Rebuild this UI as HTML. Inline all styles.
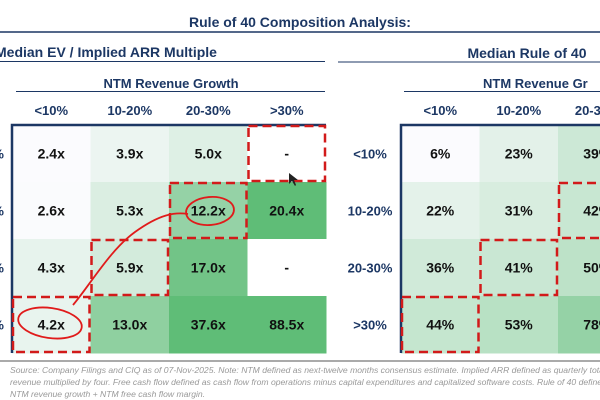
<!DOCTYPE html>
<html><head><meta charset="utf-8"><style>
body{margin:0;width:600px;height:400px;overflow:hidden;background:#fff;font-family:"Liberation Sans",sans-serif}
svg{display:block}
</style></head><body>
<svg id="chart" width="600" height="400" xmlns="http://www.w3.org/2000/svg">
<text x="300" y="27" text-anchor="middle" font-size="14" font-weight="bold" fill="#1c3764">Rule of 40 Composition Analysis:</text>
<line x1="0" y1="32" x2="600" y2="32" stroke="#1c3764" stroke-width="1.5"/>
<text x="-5" y="57" font-size="14" font-weight="bold" fill="#1c3764">Median EV / Implied ARR Multiple</text>
<line x1="0" y1="61.5" x2="325" y2="61.5" stroke="#1c3764" stroke-width="1"/>
<text x="171" y="88" text-anchor="middle" font-size="13" font-weight="bold" fill="#1c3764">NTM Revenue Growth</text>
<line x1="16" y1="91.5" x2="325" y2="91.5" stroke="#1c3764" stroke-width="1"/>
<text x="527" y="58" text-anchor="middle" font-size="14" font-weight="bold" fill="#1c3764">Median Rule of 40</text>
<line x1="338" y1="62" x2="600" y2="62" stroke="#1c3764" stroke-width="1"/>
<text x="483" y="88" font-size="13" font-weight="bold" fill="#1c3764">NTM Revenue Gr</text>
<line x1="404" y1="91.5" x2="600" y2="91.5" stroke="#1c3764" stroke-width="1"/>
<g id="cells"></g>
<g id="labels"></g>
<g id="dashes"></g>
<g fill="none" stroke="#e01b1b" stroke-width="1.8">
<ellipse cx="210" cy="211" rx="24" ry="14" transform="rotate(-5 210 211)"/>
<ellipse cx="50" cy="323" rx="32" ry="15" transform="rotate(8 50 323)"/>
<path d="M73 305 C 90 285, 110 250, 135 232 S 175 212, 188 214"/>
</g>
<path d="M289 173 L289 184 L292 181 L295 186 L296 185 L294 180 L298 180 Z" fill="#222"/>
<line x1="0" y1="361" x2="600" y2="361" stroke="#555" stroke-width="1"/>
<g font-size="8.6" font-style="italic" fill="#999">
<text x="10" y="373">Source: Company Filings and CIQ as of 07-Nov-2025. Note: NTM defined as next-twelve months consensus estimate. Implied ARR defined as quarterly total</text>
<text x="10" y="385">revenue multiplied by four. Free cash flow defined as cash flow from operations minus capital expenditures and capitalized software costs. Rule of 40 defined</text>
<text x="10" y="397">NTM revenue growth + NTM free cash flow margin.</text>
</g>
</svg>
<script>
const colLabels=["<10%","10-20%","20-30%",">30%"];
const rowLabels=["<10%","10-20%","20-30%",">30%"];
const leftValues=[[2.4,3.9,5.0,null],[2.6,5.3,12.2,20.4],[4.3,5.9,17.0,null],[4.2,13.0,37.6,88.5]];
const rightValues=[[6,23,39,null],[22,31,42,null],[36,41,50,null],[44,53,78,null]];
const leftHighlight=[[0,3],[1,2],[2,1],[3,0]];
const rightHighlight=[[1,2],[2,1],[3,0]];
const NS="http://www.w3.org/2000/svg";
const cw=78.5, rh=57, gridTop=125;
function mk(tag,attrs,parent){const e=document.createElementNS(NS,tag);for(const k in attrs)e.setAttribute(k,attrs[k]);parent.appendChild(e);return e;}
function mix(t){const a=[251,251,254],b=[95,189,119];return `rgb(${a.map((v,i)=>Math.round(v+(b[i]-v)*t)).join(',')})`;}
function leftT(v){const t=Math.max(0,Math.min(1,Math.log(v/2.4)/Math.log(20/2.4)));return Math.pow(t,1.6);}
function rightT(v){return Math.max(0,Math.min(1,(v-6)/110));}
const cells=document.getElementById('cells'),labels=document.getElementById('labels'),dashes=document.getElementById('dashes');
function panel(x0,values,tf,fmt,hl,name,showRowLabels){
  colLabels.forEach((c,j)=>{const t=mk('text',{x:x0+cw*j+cw/2,y:115,'text-anchor':'middle','font-size':13,'font-weight':'bold',fill:'#1c3764'},labels);t.textContent=c;
    
    });
  rowLabels.forEach((r,i)=>{const t=mk('text',{x:showRowLabels?x0-31:x0-8,y:gridTop+rh*i+rh/2+5,'text-anchor':showRowLabels?'middle':'end','font-size':13,'font-weight':'bold',fill:'#1c3764'},labels);t.textContent=r;
    
    });
  values.forEach((row,i)=>row.forEach((v,j)=>{
    const r=mk('rect',{x:x0+cw*j,y:gridTop+rh*i,width:cw+0.5,height:rh+0.5,fill:v==null?'#ffffff':mix(tf(v))},cells);
    
    
    const t=mk('text',{x:x0+cw*j+cw/2,y:gridTop+rh*i+rh/2+5,'text-anchor':'middle','font-size':14,'font-weight':'bold',fill:'#111'},labels);
    t.textContent=v==null?'-':fmt(v);
    
    
  }));
  const ln=mk('path',{d:`M${x0} ${gridTop+rh*4} L${x0} ${gridTop} L${x0+cw*4} ${gridTop}`,fill:'none',stroke:'#1c3764','stroke-width':2.5},cells);
  
  
  hl.forEach(([i,j])=>{const d=mk('rect',{x:x0+cw*j+1,y:gridTop+rh*i+1,width:cw-2,height:rh-2,fill:'none',stroke:'#d21a1a','stroke-width':2.5,'stroke-dasharray':'9 5'},dashes);
    
    });
}
panel(12,leftValues,leftT,v=>v.toFixed(1)+'x',leftHighlight,'multiple',false);
panel(401,rightValues,rightT,v=>v+'%',rightHighlight,'rule40',true);
</script>
</body></html>
